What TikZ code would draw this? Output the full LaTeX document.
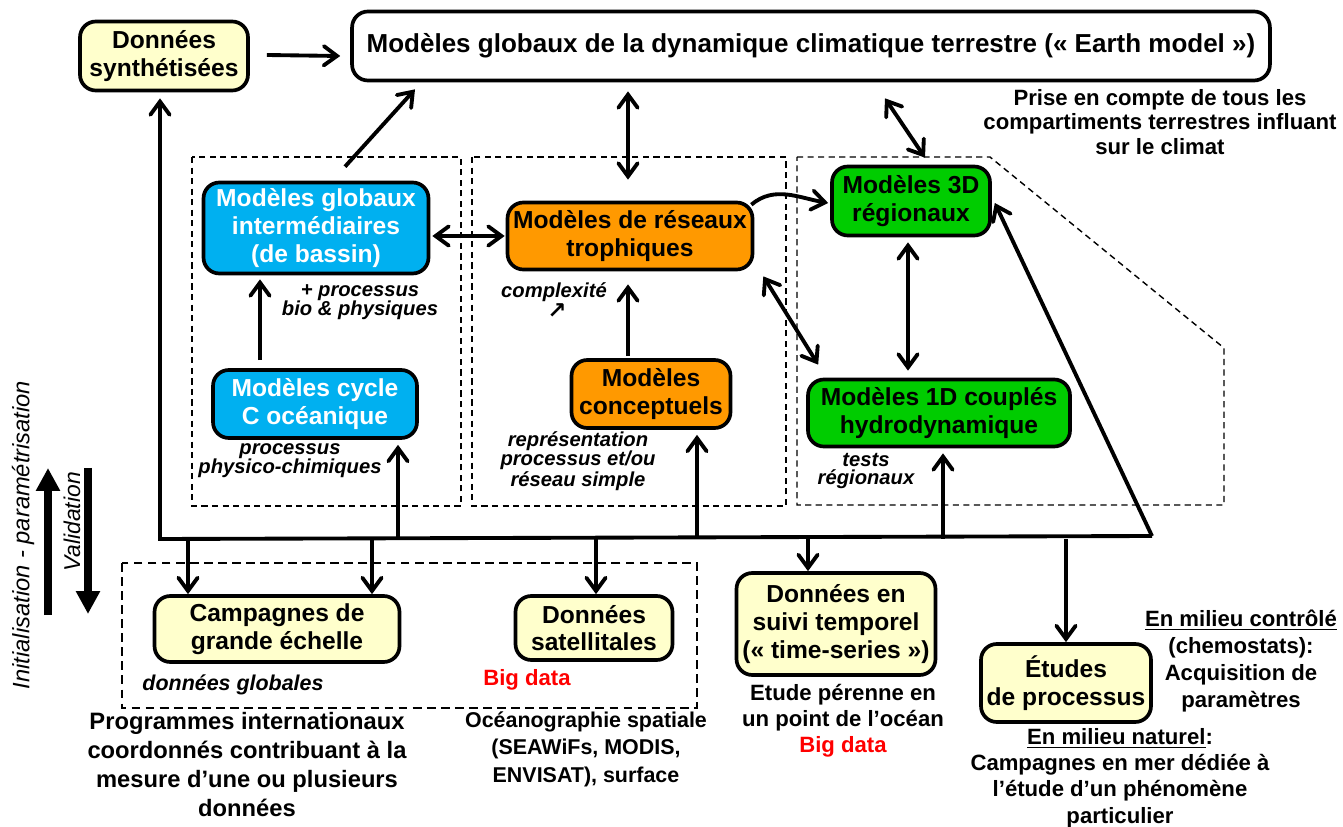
\documentclass[tikz,border=0pt]{standalone}
\usepackage{fontspec}
\setmainfont{Liberation Sans}
\newfontfamily\symfont{DejaVu Sans}
\usetikzlibrary{arrows.meta,calc}

\definecolor{boxyellow}{RGB}{255,255,204}
\definecolor{boxblue}{RGB}{0,176,240}
\definecolor{boxorange}{RGB}{255,153,0}
\definecolor{boxgreen}{RGB}{0,204,0}
\definecolor{bigred}{RGB}{255,0,0}

\begin{document}
\begin{tikzpicture}[x=0.02cm,y=-0.02cm,
  box/.style={draw, line width=2.1pt, rounded corners=9pt, align=center, inner sep=0pt,
    font=\fontsize{14}{15.7}\selectfont\bfseries},
  ybox/.style={box, fill=boxyellow},
  bbox/.style={box, fill=boxblue, text=white},
  obox/.style={box, fill=boxorange},
  gbox/.style={box, fill=boxgreen},
  tip/.tip={Straight Barb[length=7.5pt,width=11pt,line cap=round]},
  arr/.style={line width=2.2pt, -tip},
  darr/.style={line width=2.2pt, tip-tip},
  group/.style={line width=0.8pt, dash pattern=on 3.5pt off 2.5pt},
  note/.style={align=center, inner sep=0pt, font=\fontsize{12.6}{15}\selectfont\bfseries},
  inote/.style={align=center, inner sep=0pt, font=\fontsize{11.5}{10.8}\selectfont\bfseries\itshape},
  bigarrow/.style={line width=4.5pt, -{Triangle[length=13pt,width=13pt]}},
]
\useasboundingbox (0,0) rectangle (1343,827);

% dashed groupings of the models
\draw[group] (192,157) rectangle (461,506);
\draw[group] (472,157) rectangle (786,506);
\draw[group] (797,157) -- (990,157) -- (1224,348) -- (1224,505) -- (797,505) -- cycle;
\draw[line width=1.1pt, dash pattern=on 5pt off 3pt] (122,563) rectangle (697,708);

% top row
\node[ybox, minimum width=3.36cm, minimum height=1.38cm] (synth) at (164,56) {Données\\synthétisées};
\node[box, fill=white, minimum width=18.36cm, minimum height=1.38cm,
  font=\fontsize{14.8}{17}\selectfont\bfseries] (earth) at (811,46)
  {Modèles globaux de la dynamique climatique terrestre (« Earth model »)};
\node[note, font=\fontsize{12.6}{14}\selectfont\bfseries] (prise) at (1160,122)
  {Prise en compte de tous les\\compartiments terrestres influant\\sur le climat};

% model boxes
\node[bbox, minimum width=4.5cm, minimum height=1.82cm] (globaux) at (316,228) {Modèles globaux\\intermédiaires\\(de bassin)};
\node[bbox, minimum width=4.08cm, minimum height=1.36cm] (cycleC) at (315,404) {Modèles cycle\\C océanique};
\node[obox, minimum width=4.9cm, minimum height=1.34cm] (reseaux) at (630,236) {Modèles de réseaux\\trophiques};
\node[obox, minimum width=3.18cm, minimum height=1.36cm] (concept) at (651,394) {Modèles\\conceptuels};
\node[gbox, minimum width=3.16cm, minimum height=1.38cm] (m3d) at (911,201) {Modèles 3D\\régionaux};
\node[gbox, minimum width=5.24cm, minimum height=1.34cm] (m1d) at (939,413) {Modèles 1D couplés\\hydrodynamique};

% annotations inside the groups
\node[inote] (procbio) at (360,302) {+ processus\\bio \& physiques};
\node[inote] (physchim) at (290,461) {processus\\physico-chimiques};
\node[inote] (complex) at (554,292) {complexité};
\node[inner sep=0pt, font=\symfont\bfseries\fontsize{13}{13}\selectfont] (complexarrow) at (557,311) {↗};
\node[inote] (repr) at (578,461) {représentation\\processus et/ou\\réseau simple};
\node[inote] (tests) at (866,471) {tests\\régionaux};

% data sources
\node[ybox, minimum width=4.9cm, minimum height=1.32cm] (campagnes) at (277,629) {Campagnes de\\grande échelle};
\node[ybox, minimum width=3.14cm, minimum height=1.28cm] (satell) at (594,628) {Données\\satellitales};
\node[ybox, minimum width=3.98cm, minimum height=2.04cm] (suivi) at (836,624) {Données en\\suivi temporel\\(« time-series »)};
\node[ybox, minimum width=3.4cm, minimum height=1.56cm] (etudes) at (1066,683) {Études\\de processus};

\node[inote, font=\fontsize{12.2}{14}\selectfont\bfseries\itshape] (globales) at (233,685) {données globales};
\node[note, text=bigred] (bigA) at (527,680) {Big data};
\node[note, font=\fontsize{13.5}{16.5}\selectfont\bfseries] (prog) at (247,765)
  {Programmes internationaux\\coordonnés contribuant à la\\mesure d’une ou plusieurs\\données};
\node[note, font=\fontsize{12.2}{15.6}\selectfont\bfseries] (oceano) at (586,749)
  {Océanographie spatiale\\(SEAWiFs, MODIS,\\ENVISAT), surface};
\node[note, font=\fontsize{12.6}{14.8}\selectfont\bfseries] (suivinote) at (843,721)
  {Etude pérenne en\\un point de l’océan\\\textcolor{bigred}{Big data}};
\node[note, font=\fontsize{12.6}{15.3}\selectfont\bfseries] (ctrl) at (1241,661)
  {\underline{En milieu contrôlé}\\(chemostats):\\Acquisition de\\paramètres};
\node[note] (natur) at (1120,778)
  {\underline{En milieu naturel}:\\Campagnes en mer dédiée à\\l’étude d’un phénomène\\particulier};

% side arrows
\node[rotate=90, inner sep=0pt, font=\fontsize{13.5}{16}\selectfont\itshape] (init) at (23,535) {Initialisation - paramétrisation};
\node[rotate=90, inner sep=0pt, font=\fontsize{13}{16}\selectfont\itshape] (valid) at (72,522) {Validation};
\coordinate (upfoot) at (48,615);
\coordinate (uptip) at (48,468);
\coordinate (downfoot) at (88,468);
\coordinate (downtip) at (88,614);
\draw[bigarrow] (upfoot) -- (uptip);
\draw[bigarrow] (downfoot) -- (downtip);

% connectors between models
\draw[arr] ([shift={(17,-1)}]synth.east) -- ([shift={(-10,0)}]synth.east -| earth.west);
\draw[arr] ([shift={(29,-14)}]globaux.north) -- ([shift={(-396,7)}]earth.south);
\draw[darr] ([shift={(2,0)}]reseaux.west -| globaux.east) -- ([shift={(-1,0)}]reseaux.west);
\draw[darr] ([shift={(-2,9)}]earth.south -| reseaux.north) -- ([shift={(-2,-21)}]reseaux.north);
\draw[arr] ([shift={(-2,-2)}]concept.north -| reseaux.south) -- ([shift={(-2,13)}]reseaux.south);
\draw[arr] ([shift={(-55,-8)}]cycleC.north) -- ([shift={(-56,4)}]globaux.south);
\draw[arr] ([shift={(-3,4)}]reseaux.north east) to[out=40,in=170] ([shift={(-2,2)}]m3d.west);
\draw[darr] ([shift={(9,5)}]reseaux.south east) -- ([shift={(12,-13)}]m1d.north west);
\draw[darr] ([shift={(-3,5)}]m3d.south) -- ([shift={(-3,-7)}]m3d.south |- m1d.north);
\draw[darr] ([shift={(74,16)}]earth.south) -- ([shift={(14,-7)}]m3d.north);

% measurement bus
\coordinate (bl) at (160,539);
\coordinate (br) at (1152,536);
\draw[arr, line join=miter] (br) -- (bl) -- ([shift={(-4,6)}]synth.south);
\draw[arr] (br) -- ([shift={(3,2)}]m3d.east);
\draw[arr] ([shift={(83,0)}]cycleC.south |- bl) -- ([shift={(83,5)}]cycleC.south);
\draw[arr] ([shift={(46,0)}]concept.south |- bl) -- ([shift={(46,5)}]concept.south);
\draw[arr] ([shift={(4,0)}]m1d.south |- bl) -- ([shift={(4,5)}]m1d.south);
\draw[arr] ([shift={(-89,0)}]campagnes.north |- bl) -- ([shift={(-89,0)}]campagnes.north);
\draw[arr] ([shift={(95,0)}]campagnes.north |- bl) -- ([shift={(95,0)}]campagnes.north);
\draw[arr] ([shift={(2,0)}]satell.north |- bl) -- ([shift={(2,0)}]satell.north);
\draw[arr] ([shift={(-28,0)}]suivi.north |- bl) -- ([shift={(-28,0)}]suivi.north);
\draw[arr] (etudes.north |- bl) -- (etudes.north);
\end{tikzpicture}
\end{document}
